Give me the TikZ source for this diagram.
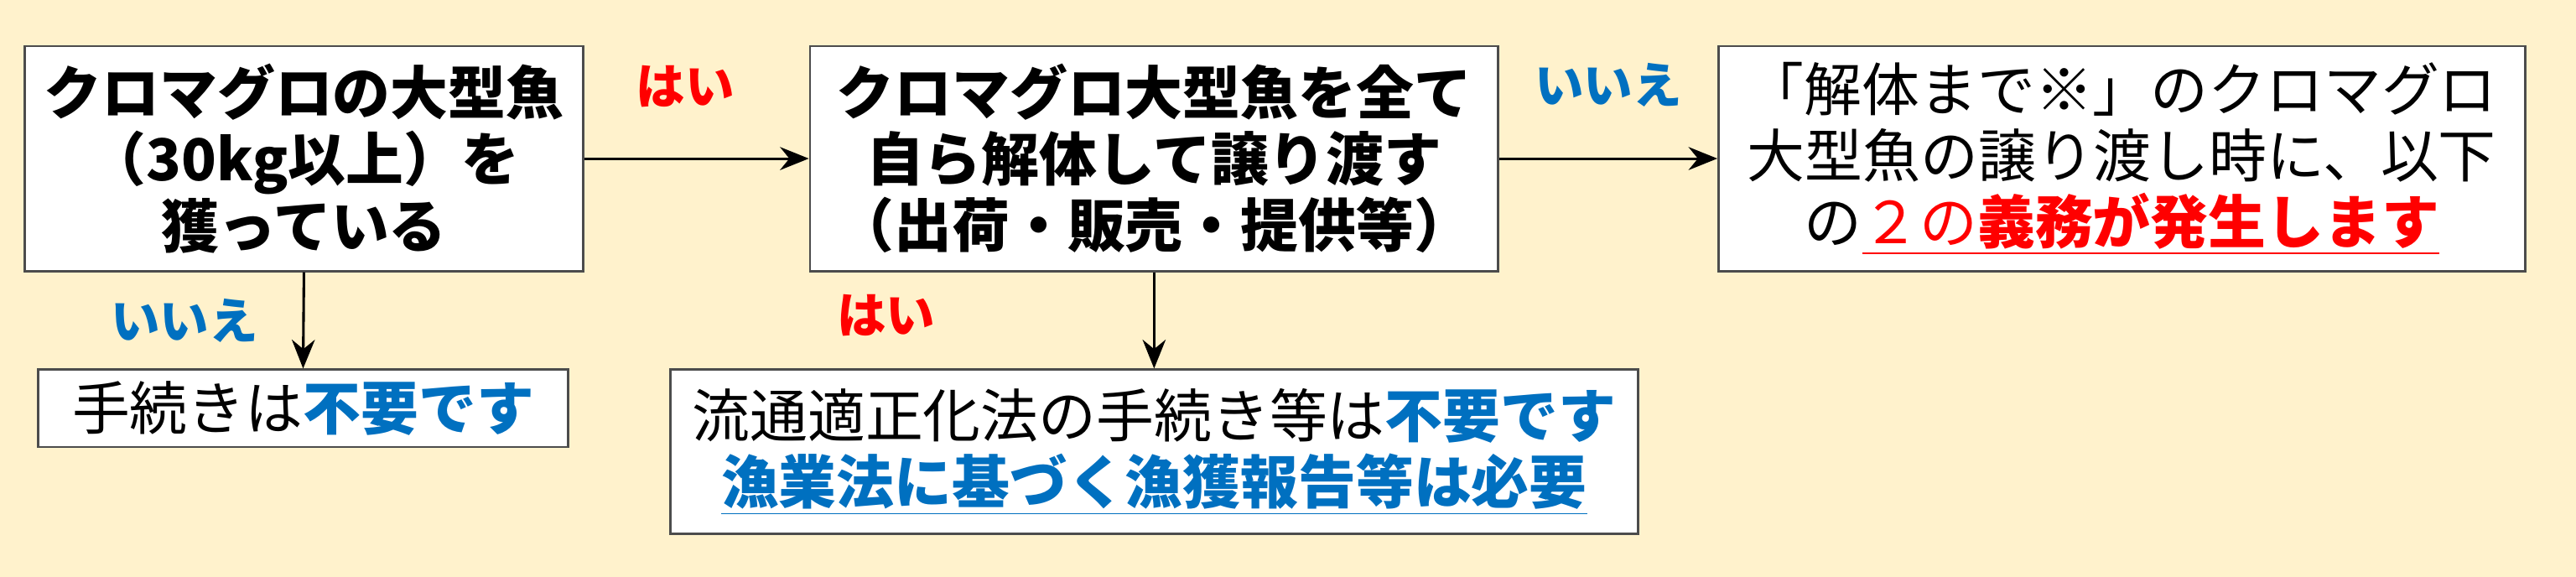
\documentclass[tikz,border=0pt]{standalone}
\usepackage{fontspec}
\setmainfont{Noto Sans CJK JP}
\usetikzlibrary{arrows.meta}
\definecolor{bg}{HTML}{FFF2CC}
\definecolor{jblue}{HTML}{0070C0}
\definecolor{jred}{HTML}{FF0000}
\begin{document}
\begin{tikzpicture}[x=0.02cm,y=-0.02cm,
  box/.style={draw=black!70,line width=0.8pt,fill=white,align=center,font=\fontsize{20}{23}\selectfont},
  arr/.style={-{Stealth[length=10pt,width=8pt]},line width=0.9pt},
  lab/.style={font=\fontsize{17}{20}\selectfont\bfseries}]
\fill[bg] (0,0) rectangle (1568,351);
\useasboundingbox (0,0) rectangle (1568,351);
\node[box,minimum width=6.8cm,minimum height=2.74cm] (b1) at (185,96.5) {\bfseries クロマグロの大型魚\\\bfseries （30kg以上）を\\\bfseries 獲っている};
\node[box,minimum width=8.38cm,minimum height=2.74cm] (b2) at (702.5,96.5) {\bfseries クロマグロ大型魚を全て\\\bfseries 自ら解体して譲り渡す\\\bfseries （出荷・販売・提供等）};
\node[box,minimum width=9.82cm,minimum height=2.74cm] (b3) at (1291.5,96.5) {「解体まで※」のクロマグロ\\大型魚の譲り渡し時に、以下\\の\textcolor{jred}{\underline{２の\textbf{義務が発生します}}}};
\node[box,minimum width=6.46cm,minimum height=0.94cm] (b4) at (184.5,248.5) {手続きは\textcolor{jblue}{\bfseries 不要です}};
\node[box,minimum width=11.78cm,minimum height=2cm] (b5) at (702.5,275) {流通適正化法の手続き等は\textcolor{jblue}{\bfseries 不要です}\\\textcolor{jblue}{\bfseries\underline{漁業法に基づく漁獲報告等は必要}}};
\draw[arr] (b1.east) -- (b2.west) node[pos=0.45,above=14pt,lab,text=jred] {はい};
\draw[arr] (b2.east) -- (b3.west) node[pos=0.5,above=14pt,lab,text=jblue] {いいえ};
\draw[arr] (b1.south) -- (b4.north) node[pos=0.5,left=12pt,lab,text=jblue] {いいえ};
\draw[arr] (b2.south) -- (b5.north) node[pos=0.45,left=72pt,lab,text=jred] {はい};
\end{tikzpicture}
\end{document}
